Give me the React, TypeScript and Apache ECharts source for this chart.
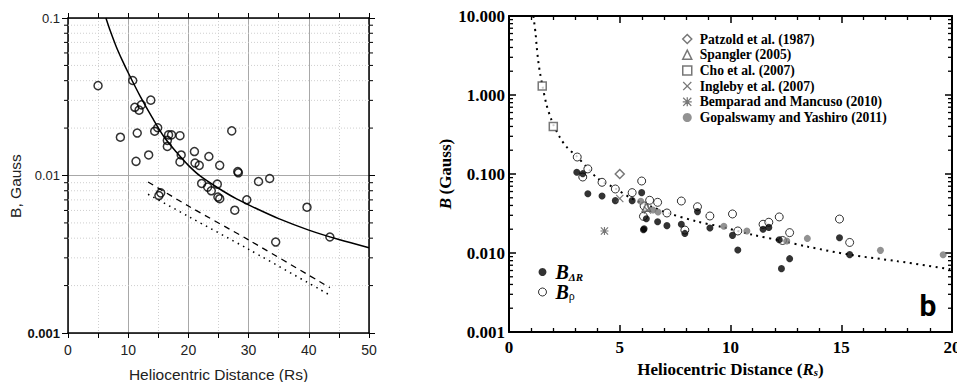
import React, { useEffect, useRef } from "react";
import * as echarts from "echarts";

const SANS = '"Liberation Sans", Arial, sans-serif';
const SERIF = '"Liberation Serif", "Times New Roman", serif';

// ---------- Left panel (a) ----------
const leftObsX = [4.99, 8.7, 10.75, 11.1, 11.3, 11.5, 11.8, 12.2, 13.4, 13.75, 14.4, 14.9, 15.1, 15.4, 16.5, 16.5, 16.7, 17.2, 18.6, 18.6, 18.8, 21.0, 21.1, 21.8, 22.2, 23.2, 23.4, 23.8, 24.8, 24.9, 25.2, 25.2, 27.2, 27.7, 28.2, 28.3, 29.7, 31.65, 33.5, 34.5, 39.7, 43.5];
const leftObsY = [0.0372, 0.0175, 0.0401, 0.0271, 0.0123, 0.0186, 0.026, 0.0281, 0.0135, 0.0301, 0.0191, 0.0201, 0.00746, 0.00776, 0.0167, 0.0153, 0.0181, 0.0181, 0.0179, 0.0122, 0.0135, 0.0142, 0.012, 0.0116, 0.0089, 0.00844, 0.0132, 0.008, 0.00881, 0.0073, 0.00712, 0.0116, 0.0192, 0.00602, 0.0106, 0.0104, 0.00701, 0.00916, 0.00957, 0.00378, 0.00629, 0.00407];

const leftFitX = [6.3, 7, 8, 9, 10, 12, 14, 16, 18, 20, 22, 25, 28, 31, 35, 40, 45, 50];
const leftFitY = [0.1, 0.0832, 0.066, 0.054, 0.0449, 0.0318, 0.0233, 0.0175, 0.0141, 0.0116, 0.0099, 0.0083, 0.0071, 0.00624, 0.00532, 0.0045, 0.00392, 0.00348];

const leftDashX = [13.3, 20, 30, 43.5];
const leftDashY = [0.0091, 0.0064, 0.0039, 0.00194];
const leftDotX = [13.3, 20, 30, 43.5];
const leftDotY = [0.0076, 0.0055, 0.0034, 0.00174];

const leftMinorTicks = [0.002, 0.003, 0.004, 0.005, 0.006, 0.007, 0.008, 0.009, 0.02, 0.03, 0.04, 0.05, 0.06, 0.07, 0.08, 0.09];

// ---------- Right panel (b) ----------
const rightFitX = [1.1, 1.2, 1.25, 1.32, 1.4, 1.5, 1.7, 1.92, 2.0, 2.3, 2.6, 3.08, 3.56, 4.0, 4.78, 5.6, 6.5, 7.26, 8.5, 9.66, 11, 12.3, 13.5, 15.4, 17.5, 20];
const rightFitY = [10, 6.0, 4.1, 2.7, 1.9, 1.35, 0.74, 0.48, 0.42, 0.29, 0.22, 0.165, 0.118, 0.088, 0.066, 0.048, 0.038, 0.0315, 0.025, 0.0212, 0.017, 0.0143, 0.012, 0.0095, 0.0079, 0.0062];

const bdrX = [3.06, 3.33, 3.56, 4.2, 4.8, 5.56, 5.99, 6.07, 6.1, 6.2, 6.71, 7.13, 7.78, 7.94, 8.51, 9.07, 10.09, 10.33, 11.47, 11.73, 12.2, 12.3, 12.67, 14.92, 15.38];
const bdrY = [0.105, 0.101, 0.0563, 0.0527, 0.046, 0.046, 0.0581, 0.0197, 0.0203, 0.0272, 0.0249, 0.0222, 0.0231, 0.0177, 0.0334, 0.0207, 0.0167, 0.0109, 0.02, 0.0211, 0.0147, 0.00634, 0.00848, 0.0156, 0.00953];

const brhoX = [3.08, 3.33, 3.56, 4.2, 4.8, 5.56, 5.99, 6.07, 6.1, 6.35, 6.71, 7.13, 7.78, 7.94, 8.51, 9.07, 10.09, 10.33, 11.47, 11.73, 12.2, 12.35, 12.67, 14.92, 15.38];
const brhoY = [0.164, 0.0916, 0.116, 0.0785, 0.0646, 0.0581, 0.0815, 0.0291, 0.0394, 0.0465, 0.0438, 0.0321, 0.0455, 0.0195, 0.0385, 0.0294, 0.0312, 0.019, 0.0231, 0.0245, 0.0286, 0.0144, 0.0181, 0.0269, 0.0136];

const patzoldX = [5.0];
const patzoldY = [0.1];
const spanglerX = [6.2];
const spanglerY = [0.038];
const choX = [1.5, 2.0];
const choY = [1.3, 0.4];
const inglebyX = [5.0, 6.25];
const inglebyY = [0.049, 0.035];
const bemparadX = [4.31];
const bemparadY = [0.019];
const gopalX = [5.95, 6.5, 6.73, 9.7, 10.74, 12.54, 13.47, 16.77, 19.6];
const gopalY = [0.0451, 0.035, 0.033, 0.0218, 0.019, 0.0142, 0.0153, 0.0108, 0.0095];

const rightMinorTicks = [0.002, 0.003, 0.004, 0.005, 0.006, 0.007, 0.008, 0.009, 0.02, 0.03, 0.04, 0.05, 0.06, 0.07, 0.08, 0.09, 0.2, 0.3, 0.4, 0.5, 0.6, 0.7, 0.8, 0.9, 2, 3, 4, 5, 6, 7, 8, 9];

const legendNames = [
  "Patzold et al. (1987)",
  "Spangler (2005)",
  "Cho et al. (2007)",
  "Ingleby et al. (2007)",
  "Bemparad and Mancuso (2010)",
  "Gopalswamy and Yashiro (2011)",
];

const X_PATH = "path://M0,1L1,0L5,4L9,0L10,1L6,5L10,9L9,10L5,6L1,10L0,9L4,5Z";
const AST_PATH =
  "path://M0,1L1,0L5,4L9,0L10,1L6,5L10,9L9,10L5,6L1,10L0,9L4,5Z M4.3,0L5.7,0L5.7,4.3L10,4.3L10,5.7L5.7,5.7L5.7,10L4.3,10L4.3,5.7L0,5.7L0,4.3L4.3,4.3Z";

const zip = (xs: number[], ys: number[]) => xs.map((x, i) => [x, ys[i]]);

function minorTickSeries(xIdx: number, yIdx: number, values: number[], outside: boolean, grid: boolean) {
  return {
    type: "custom",
    xAxisIndex: xIdx,
    yAxisIndex: yIdx,
    data: values.map((v) => [0, v]),
    encode: { x: 0, y: 1 },
    clip: false,
    silent: true,
    z: 1,
    renderItem: (params: any, api: any) => {
      const cs = params.coordSys;
      const y = api.coord([0, api.value(1)])[1];
      const l = cs.x;
      const r = cs.x + cs.width;
      const children: any[] = [];
      if (grid) {
        children.push({
          type: "line",
          shape: { x1: l, y1: y, x2: r, y2: y },
          style: { stroke: "#cfcfcf", lineWidth: 1, lineDash: [1, 2] },
        });
      }
      const len = 4;
      children.push({
        type: "line",
        shape: outside ? { x1: l - len, y1: y, x2: l, y2: y } : { x1: l, y1: y, x2: l + len, y2: y },
        style: { stroke: "#000", lineWidth: outside ? 1 : 1.3 },
      });
      children.push({
        type: "line",
        shape: outside ? { x1: r, y1: y, x2: r + len, y2: y } : { x1: r - len, y1: y, x2: r, y2: y },
        style: { stroke: "#000", lineWidth: outside ? 1 : 1.3 },
      });
      return { type: "group", children };
    },
  };
}

export default function App() {
  const ref = useRef<HTMLDivElement>(null);

  useEffect(() => {
    if (!ref.current) return;
    const chart = echarts.init(ref.current, null, { renderer: "svg" });

    const grayBorder = { color: "#fff", borderColor: "#555", borderWidth: 1.5 };

    const option: any = {
      animation: false,
      backgroundColor: "#fff",
      grid: [
        { left: 68, top: 18, width: 301, height: 315, outerBoundsMode: "none", containLabel: false },
        { left: 509, top: 16, width: 443, height: 316, outerBoundsMode: "none", containLabel: false },
      ],
      legend: [
        {
          orient: "vertical",
          left: 682,
          top: 32,
          padding: 0,
          itemWidth: 9,
          itemHeight: 9,
          itemGap: 1.7,
          selectedMode: false,
          textStyle: { fontFamily: SERIF, fontWeight: "bold", fontSize: 13.6, color: "#000", lineHeight: 14, padding: [0, 0, 0, 3] },
          data: [
            { name: legendNames[0], icon: "diamond", itemStyle: grayBorder },
            { name: legendNames[1], icon: "triangle", itemStyle: grayBorder },
            { name: legendNames[2], icon: "rect", itemStyle: grayBorder },
            { name: legendNames[3], icon: X_PATH, itemStyle: { color: "#555", borderWidth: 0 } },
            { name: legendNames[4], icon: AST_PATH, itemStyle: { color: "#555", borderWidth: 0 } },
            { name: legendNames[5], icon: "circle", itemStyle: { color: "#777", borderWidth: 0 } },
          ],
        },
        {
          orient: "vertical",
          left: 538,
          top: 262,
          padding: 0,
          itemWidth: 8,
          itemHeight: 8,
          itemGap: 0,
          selectedMode: false,
          formatter: (name: string) => (name === "BΔR" ? "{b|B}{s|ΔR}" : "{b|B}{r|ρ}"),
          textStyle: {
            padding: [0, 0, 0, 4],
            rich: {
              b: { fontFamily: SERIF, fontWeight: "bold", fontStyle: "italic", fontSize: 20, lineHeight: 20, color: "#000" },
              s: { fontFamily: SERIF, fontWeight: "bold", fontStyle: "italic", fontSize: 11, lineHeight: 11, verticalAlign: "bottom", color: "#000" },
              r: { fontFamily: SERIF, fontSize: 12, lineHeight: 11, verticalAlign: "bottom", color: "#000" },
            },
          },
          data: [
            { name: "BΔR", icon: "circle", itemStyle: { color: "#000", borderWidth: 0 } },
            { name: "Bρ", icon: "circle", itemStyle: { color: "#fff", borderColor: "#000", borderWidth: 1 } },
          ],
        },
      ],
      xAxis: [
        {
          gridIndex: 0,
          type: "value",
          min: 0,
          max: 50,
          interval: 10,
          position: "bottom",
          axisLine: { show: true, onZero: false, lineStyle: { color: "#000", width: 1.5 } },
          axisTick: { show: true, inside: false, length: 5, lineStyle: { color: "#000", width: 1 } },
          minorTick: { show: true, splitNumber: 2, length: 5, lineStyle: { color: "#000", width: 1 } },
          splitLine: { show: true, lineStyle: { color: "#a8a8a8", width: 1 } },
          minorSplitLine: { show: true, lineStyle: { color: "#cfcfcf", width: 1, type: [1, 2] } },
          axisLabel: { fontFamily: SANS, fontSize: 14, color: "#222", margin: 10 },
          name: "Heliocentric Distance (Rs)",
          nameLocation: "middle",
          nameGap: 33,
          nameTextStyle: { fontFamily: SANS, fontSize: 15.5, color: "#222" },
        },
        {
          gridIndex: 0,
          type: "value",
          min: 0,
          max: 50,
          interval: 5,
          position: "top",
          axisLine: { show: true, onZero: false, lineStyle: { color: "#000", width: 1.5 } },
          axisTick: { show: true, inside: false, length: 5, lineStyle: { color: "#000", width: 1 } },
          splitLine: { show: false },
          axisLabel: { show: false },
        },
        {
          gridIndex: 1,
          type: "value",
          min: 0,
          max: 20,
          interval: 5,
          position: "bottom",
          axisLine: { show: true, onZero: false, lineStyle: { color: "#000", width: 2 } },
          axisTick: { show: true, inside: true, length: 7, lineStyle: { color: "#000", width: 1.5 } },
          minorTick: { show: true, splitNumber: 5, length: 4, lineStyle: { color: "#000", width: 1.3 } },
          splitLine: { show: false },
          axisLabel: { fontFamily: SERIF, fontWeight: "bold", fontSize: 17, color: "#000", margin: 7 },
          name: "Heliocentric Distance ({i|R}{sub|s})",
          nameLocation: "middle",
          nameGap: 26,
          nameTextStyle: {
            fontFamily: SERIF,
            fontWeight: "bold",
            fontSize: 17,
            color: "#000",
            rich: {
              i: { fontFamily: SERIF, fontWeight: "bold", fontStyle: "italic", fontSize: 17, color: "#000" },
              sub: { fontFamily: SERIF, fontWeight: "bold", fontStyle: "italic", fontSize: 11, lineHeight: 11, verticalAlign: "bottom", color: "#000" },
            },
          },
        },
        {
          gridIndex: 1,
          type: "value",
          min: 0,
          max: 20,
          interval: 5,
          position: "top",
          axisLine: { show: true, onZero: false, lineStyle: { color: "#000", width: 2 } },
          axisTick: { show: true, inside: true, length: 7, lineStyle: { color: "#000", width: 1.5 } },
          minorTick: { show: true, splitNumber: 5, length: 4, lineStyle: { color: "#000", width: 1.3 } },
          splitLine: { show: false },
          axisLabel: { show: false },
        },
      ],
      yAxis: [
        {
          gridIndex: 0,
          type: "log",
          logBase: 10,
          min: 0.001,
          max: 0.1,
          position: "left",
          axisLine: { show: true, onZero: false, lineStyle: { color: "#000", width: 1.5 } },
          axisTick: { show: true, inside: false, length: 6, lineStyle: { color: "#000", width: 1 } },
          splitLine: { show: true, lineStyle: { color: "#a8a8a8", width: 1 } },
          axisLabel: {
            fontFamily: SANS,
            fontSize: 13,
            color: "#222",
            margin: 8,
            formatter: (v: number) => {
              const e = Math.round(Math.log10(v));
              return e === -3 ? "{bd|0.001}" : e === -2 ? "0.01" : "0.1";
            },
            rich: { bd: { fontFamily: SANS, fontSize: 13, fontWeight: "bold", color: "#111" } },
          },
        },
        {
          gridIndex: 0,
          type: "log",
          logBase: 10,
          min: 0.001,
          max: 0.1,
          position: "right",
          axisLine: { show: true, onZero: false, lineStyle: { color: "#000", width: 1.5 } },
          axisTick: { show: true, inside: false, length: 6, lineStyle: { color: "#000", width: 1 } },
          splitLine: { show: false },
          axisLabel: { show: false },
        },
        {
          gridIndex: 1,
          type: "log",
          logBase: 10,
          min: 0.001,
          max: 10,
          position: "left",
          axisLine: { show: true, onZero: false, lineStyle: { color: "#000", width: 2 } },
          axisTick: { show: true, inside: true, length: 7, lineStyle: { color: "#000", width: 1.5 } },
          splitLine: { show: false },
          axisLabel: {
            fontFamily: SERIF,
            fontWeight: "bold",
            fontSize: 17,
            color: "#000",
            margin: 4,
            formatter: (v: number) => v.toFixed(3),
          },
          name: "{bi|B} {b|(Gauss)}",
          nameLocation: "middle",
          nameRotate: 90,
          nameGap: 53,
          nameTextStyle: {
            rich: {
              bi: { fontFamily: SERIF, fontWeight: "bold", fontStyle: "italic", fontSize: 17, color: "#000" },
              b: { fontFamily: SERIF, fontWeight: "bold", fontSize: 17, color: "#000" },
            },
          },
        },
        {
          gridIndex: 1,
          type: "log",
          logBase: 10,
          min: 0.001,
          max: 10,
          position: "right",
          axisLine: { show: true, onZero: false, lineStyle: { color: "#000", width: 2 } },
          axisTick: { show: true, inside: true, length: 7, lineStyle: { color: "#000", width: 1.5 } },
          splitLine: { show: false },
          axisLabel: { show: false },
        },
      ],
      graphic: [
        {
          type: "text",
          x: 15,
          y: 186,
          rotation: Math.PI / 2,
          style: { text: "B, Gauss", font: '15.5px "Liberation Sans", Arial, sans-serif', fill: "#222", align: "center", verticalAlign: "middle" },
        },
        {
          type: "text",
          x: 928,
          y: 305,
          style: { text: "b", font: 'bold 30px Roboto, "Liberation Sans", sans-serif', fill: "#000", align: "center", verticalAlign: "middle" },
        },
      ],
      series: [
        minorTickSeries(0, 0, leftMinorTicks, true, true),
        minorTickSeries(2, 2, rightMinorTicks, false, false),
        {
          name: "fit",
          type: "line",
          xAxisIndex: 0,
          yAxisIndex: 0,
          data: zip(leftFitX, leftFitY),
          smooth: 0.3,
          showSymbol: false,
          symbol: "none",
          lineStyle: { color: "#000", width: 1.5 },
          z: 2,
        },
        {
          name: "dashed",
          type: "line",
          xAxisIndex: 0,
          yAxisIndex: 0,
          data: zip(leftDashX, leftDashY),
          smooth: 0.3,
          symbol: "none",
          lineStyle: { color: "#000", width: 1.3, type: [6, 5] },
          z: 2,
        },
        {
          name: "dotted",
          type: "line",
          xAxisIndex: 0,
          yAxisIndex: 0,
          data: zip(leftDotX, leftDotY),
          smooth: 0.3,
          symbol: "none",
          lineStyle: { color: "#000", width: 1.5, type: [1.5, 4.5] },
          z: 2,
        },
        {
          name: "observed",
          type: "scatter",
          xAxisIndex: 0,
          yAxisIndex: 0,
          data: zip(leftObsX, leftObsY),
          symbol: "circle",
          symbolSize: 8,
          itemStyle: { color: "rgba(255,255,255,0)", borderColor: "#000", borderWidth: 1.5 },
          z: 3,
        },
        {
          name: "model",
          type: "line",
          xAxisIndex: 2,
          yAxisIndex: 2,
          data: zip(rightFitX, rightFitY),
          smooth: 0.3,
          symbol: "none",
          lineStyle: { color: "#000", width: 2, type: [2, 4.5] },
          z: 2,
        },
        {
          name: "Bρ",
          type: "scatter",
          xAxisIndex: 2,
          yAxisIndex: 2,
          data: zip(brhoX, brhoY),
          symbol: "circle",
          symbolSize: 8,
          itemStyle: { color: "#fff", borderColor: "#000", borderWidth: 1 },
          z: 3,
        },
        {
          name: "BΔR",
          type: "scatter",
          xAxisIndex: 2,
          yAxisIndex: 2,
          data: zip(bdrX, bdrY),
          symbol: "circle",
          symbolSize: 7,
          itemStyle: { color: "#000", borderWidth: 0 },
          z: 4,
        },
        {
          name: legendNames[5],
          type: "scatter",
          xAxisIndex: 2,
          yAxisIndex: 2,
          data: zip(gopalX, gopalY),
          symbol: "circle",
          symbolSize: 7,
          itemStyle: { color: "#777", borderWidth: 0 },
          z: 5,
        },
        {
          name: legendNames[0],
          type: "scatter",
          xAxisIndex: 2,
          yAxisIndex: 2,
          data: zip(patzoldX, patzoldY),
          symbol: "diamond",
          symbolSize: 9,
          itemStyle: grayBorder,
          z: 5,
        },
        {
          name: legendNames[1],
          type: "scatter",
          xAxisIndex: 2,
          yAxisIndex: 2,
          data: zip(spanglerX, spanglerY),
          symbol: "triangle",
          symbolSize: 8,
          itemStyle: grayBorder,
          z: 5,
        },
        {
          name: legendNames[2],
          type: "scatter",
          xAxisIndex: 2,
          yAxisIndex: 2,
          data: zip(choX, choY),
          symbol: "rect",
          symbolSize: 8,
          itemStyle: grayBorder,
          z: 5,
        },
        {
          name: legendNames[3],
          type: "scatter",
          xAxisIndex: 2,
          yAxisIndex: 2,
          data: zip(inglebyX, inglebyY),
          symbol: X_PATH,
          symbolSize: 8,
          itemStyle: { color: "#555", borderWidth: 0 },
          z: 5,
        },
        {
          name: legendNames[4],
          type: "scatter",
          xAxisIndex: 2,
          yAxisIndex: 2,
          data: zip(bemparadX, bemparadY),
          symbol: AST_PATH,
          symbolSize: 8,
          itemStyle: { color: "#555", borderWidth: 0 },
          z: 5,
        },
      ],
    };

    chart.setOption(option);
    return () => chart.dispose();
  }, []);

  return (
    <div
      ref={ref}
      style={{ position: "absolute", left: 0, top: 0, width: 957, height: 382, background: "#fff" }}
    />
  );
}
